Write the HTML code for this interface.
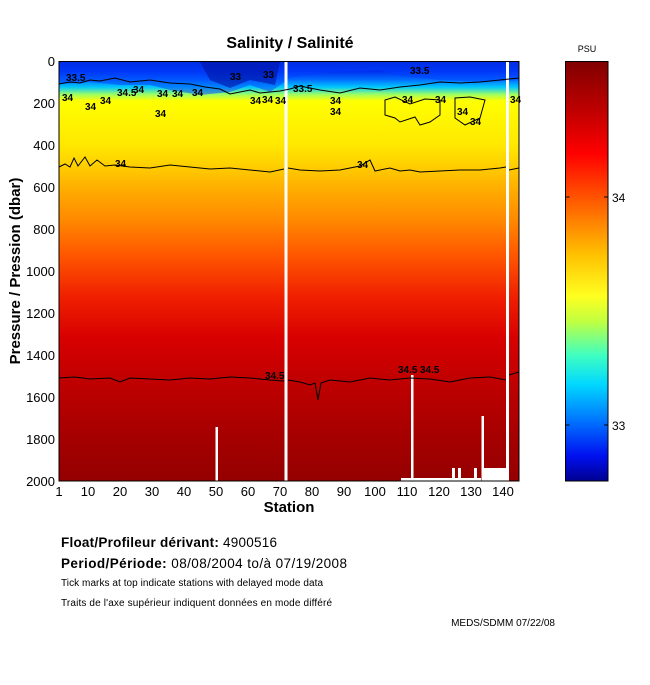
<!DOCTYPE html>
<html><head><meta charset="utf-8"><style>
body{margin:0;background:#fff;width:650px;height:680px;overflow:hidden;font-family:"Liberation Sans",sans-serif}
</style></head><body>
<svg width="650" height="680" xmlns="http://www.w3.org/2000/svg" font-family="Liberation Sans, sans-serif">
<defs>
<linearGradient id="g" x1="0" y1="61" x2="0" y2="481" gradientUnits="userSpaceOnUse">
<stop offset="0" stop-color="#0018c8"/>
<stop offset="0.025" stop-color="#0030f0"/>
<stop offset="0.045" stop-color="#0070ff"/>
<stop offset="0.062" stop-color="#00c8ff"/>
<stop offset="0.08" stop-color="#a0ff60"/>
<stop offset="0.095" stop-color="#ffff00"/>
<stop offset="0.2" stop-color="#ffe800"/>
<stop offset="0.24" stop-color="#ffd400"/>
<stop offset="0.3" stop-color="#ffb000"/>
<stop offset="0.38" stop-color="#ff8800"/>
<stop offset="0.46" stop-color="#ff5800"/>
<stop offset="0.56" stop-color="#f02000"/>
<stop offset="0.66" stop-color="#d80000"/>
<stop offset="0.76" stop-color="#c00000"/>
<stop offset="0.88" stop-color="#a80000"/>
<stop offset="1" stop-color="#950000"/>
</linearGradient>
<linearGradient id="cb" x1="0" y1="61" x2="0" y2="481" gradientUnits="userSpaceOnUse">
<stop offset="0" stop-color="#800000"/>
<stop offset="0.12" stop-color="#c00000"/>
<stop offset="0.22" stop-color="#ff0000"/>
<stop offset="0.34" stop-color="#ff6000"/>
<stop offset="0.46" stop-color="#ffc000"/>
<stop offset="0.56" stop-color="#ffff20"/>
<stop offset="0.62" stop-color="#c0ff40"/>
<stop offset="0.7" stop-color="#40ffc0"/>
<stop offset="0.77" stop-color="#00d8ff"/>
<stop offset="0.86" stop-color="#0070ff"/>
<stop offset="0.94" stop-color="#0010f0"/>
<stop offset="1" stop-color="#000090"/>
</linearGradient>
</defs>
<text x="290" y="48" font-size="16" font-weight="bold" text-anchor="middle">Salinity / Salinité</text>
<rect x="59" y="61.5" width="460" height="419.5" fill="url(#g)"/>
<path d="M59 61 L519 61 L519 80 L480 82 L440 80 L400 76 L380 70 L330 72 L290 78 L270 92 L250 85 L230 92 L200 95 L170 90 L150 85 L120 85 L90 82 L59 84Z" fill="#0040ff" opacity="0.5"/>
<path d="M200 62 L280 62 L275 85 L250 80 L230 88 L210 80Z" fill="#0010a0" opacity="0.6"/>
<rect x="284.5" y="61" width="3" height="420" fill="#fff"/>
<rect x="506" y="61" width="3" height="420" fill="#fff"/>
<rect x="215.5" y="427" width="2.5" height="54" fill="#fff"/>
<rect x="411" y="375" width="2.5" height="106" fill="#fff"/>
<rect x="481.5" y="416" width="2.5" height="65" fill="#fff"/>
<rect x="484" y="468" width="22" height="13" fill="#fff"/>
<rect x="401" y="478" width="80" height="3" fill="#fff"/>
<rect x="452" y="468" width="3" height="13" fill="#fff"/>
<rect x="458" y="468" width="3" height="13" fill="#fff"/>
<rect x="474" y="468" width="3" height="13" fill="#fff"/>
<g fill="none" stroke="#000" stroke-width="1">
<path d="M59 84 L70 82 L80 83 L90 80 L100 81 L115 78 L130 82 L150 80 L170 83 L190 84 L205 87 L220 89 L230 94 L240 92 L250 90 L260 93 L270 92 L280 91 L290 89 L300 86 L320 90 L340 93 L360 88 L380 90 L400 87 L420 85 L440 82 L460 83 L480 82 L500 80 L519 78"/>
<path d="M59 167 L65 164 L70 167 L74 158 L78 166 L85 157 L90 166 L97 160 L105 166 L115 165 L130 167 L150 168 L170 165 L190 167 L210 169 L230 168 L250 170 L270 172 L284 169 M288 168 L300 170 L320 171 L340 170 L360 166 L370 160 L375 171 L390 168 L400 171 L410 170 L420 172 L440 171 L460 170 L480 170 L500 168 L506 167 M509 170 L519 168"/>
<path d="M59 378 L75 377 L90 379 L110 378 L120 382 L130 378 L150 379 L170 380 L190 378 L210 379 L230 377 L250 378 L270 380 L284 381 M288 380 L300 382 L310 385 L315 383 L318 400 L321 383 L330 380 L350 382 L370 378 L390 380 L410 378 L430 379 L450 382 L470 378 L490 377 L506 380 M509 375 L519 372"/>
<path d="M385 100 L385 115 L395 118 L400 122 L415 117 L420 125 L430 122 L440 115 L440 100 L425 99 L410 104 L395 97Z"/>
<path d="M455 98 L455 118 L465 125 L480 118 L485 100 L470 97Z"/>
</g>
<g font-size="10" font-weight="bold">
<text x="66" y="81">33.5</text><text x="62" y="101">34</text><text x="117" y="96">34.5</text>
<text x="85" y="110">34</text><text x="100" y="104">34</text><text x="133" y="93">34</text>
<text x="157" y="97">34</text><text x="172" y="97">34</text><text x="192" y="96">34</text>
<text x="250" y="104">34</text><text x="262" y="103">34</text><text x="275" y="104">34</text>
<text x="230" y="80">33</text><text x="263" y="78">33</text><text x="293" y="92">33.5</text>
<text x="330" y="104">34</text><text x="330" y="115">34</text><text x="155" y="117">34</text>
<text x="115" y="167">34</text><text x="357" y="168">34</text>
<text x="265" y="379">34.5</text><text x="398" y="373">34.5</text><text x="420" y="373">34.5</text>
<text x="410" y="74">33.5</text><text x="402" y="103">34</text><text x="435" y="103">34</text>
<text x="457" y="115">34</text><text x="470" y="125">34</text><text x="510" y="103">34</text>
</g>
<rect x="59" y="61.5" width="460" height="419.5" fill="none" stroke="#000" stroke-width="1"/>
<g font-size="13" text-anchor="end">
<text x="55" y="66">0</text><text x="55" y="108">200</text><text x="55" y="150">400</text>
<text x="55" y="192">600</text><text x="55" y="234">800</text><text x="55" y="276">1000</text>
<text x="55" y="318">1200</text><text x="55" y="360">1400</text><text x="55" y="402">1600</text>
<text x="55" y="444">1800</text><text x="55" y="486">2000</text>
</g>
<text transform="translate(20,271) rotate(-90)" font-size="15" font-weight="bold" text-anchor="middle">Pressure / Pression (dbar)</text>
<g font-size="13" text-anchor="middle">
<text x="59" y="496">1</text><text x="88" y="496">10</text><text x="120" y="496">20</text>
<text x="152" y="496">30</text><text x="184" y="496">40</text><text x="216" y="496">50</text>
<text x="248" y="496">60</text><text x="280" y="496">70</text><text x="312" y="496">80</text>
<text x="344" y="496">90</text><text x="375" y="496">100</text><text x="407" y="496">110</text>
<text x="439" y="496">120</text><text x="471" y="496">130</text><text x="503" y="496">140</text>
</g>
<text x="289" y="512" font-size="15" font-weight="bold" text-anchor="middle">Station</text>
<text x="587" y="52" font-size="9" text-anchor="middle">PSU</text>
<rect x="565.5" y="61.5" width="42.5" height="419.5" fill="url(#cb)" stroke="#000" stroke-width="1"/>
<path d="M565.5 197h4M608 197h-4M565.5 425h4M608 425h-4" stroke="#000"/>
<text x="612" y="202" font-size="12">34</text>
<text x="612" y="430" font-size="12">33</text>
<text x="61" y="547" font-size="13.5" textLength="216"><tspan font-weight="bold">Float/Profileur dérivant:</tspan> 4900516</text>
<text x="61" y="568" font-size="13.5" textLength="286"><tspan font-weight="bold">Period/Période:</tspan> 08/08/2004  to/à  07/19/2008</text>
<text x="61" y="586" font-size="10" textLength="262">Tick marks at top indicate stations with delayed mode data</text>
<text x="61" y="606" font-size="10" textLength="271">Traits de l'axe supérieur indiquent données en mode différé</text>
<text x="555" y="626" font-size="10" text-anchor="end">MEDS/SDMM  07/22/08</text>
</svg>
</body></html>
